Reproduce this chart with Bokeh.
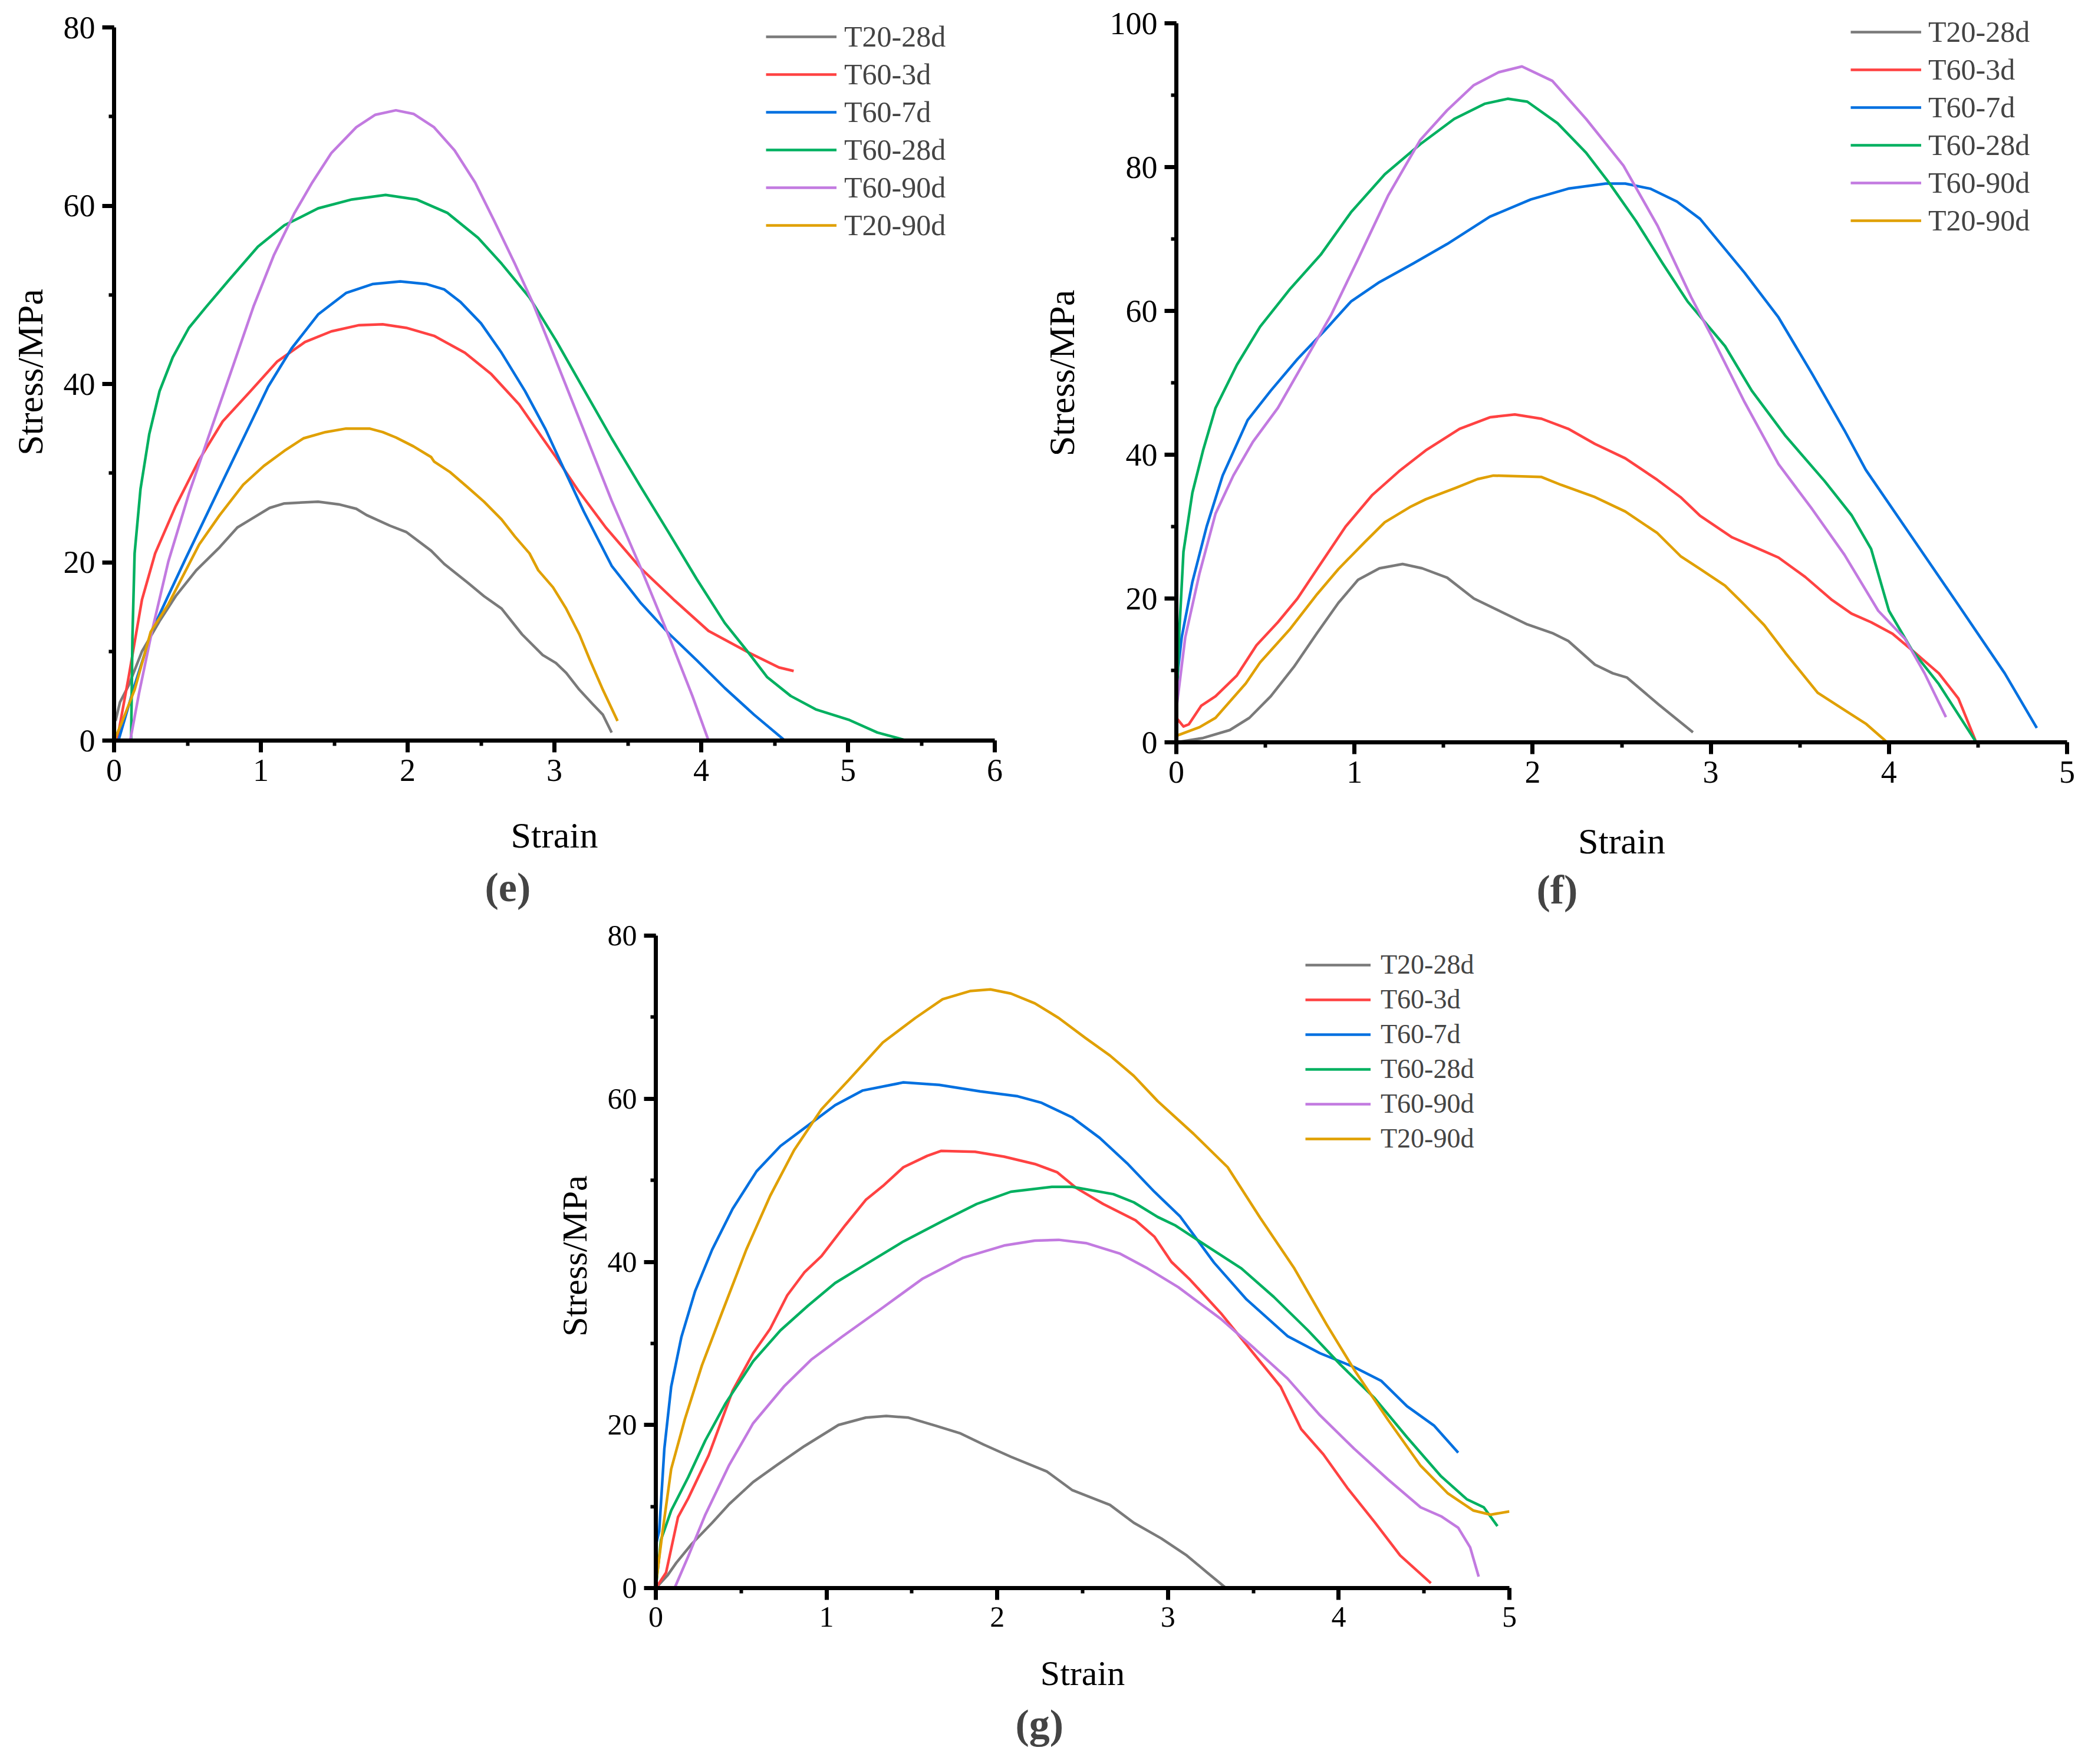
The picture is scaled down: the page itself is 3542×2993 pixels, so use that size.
from bokeh.plotting import figure
from bokeh.models import Range1d, Legend, LegendItem, Title, Spacer, SingleIntervalTicker
from bokeh.layouts import column, row
from bokeh.embed import file_html
from bokeh.resources import INLINE

# series names and colours (same order in every panel)
names = ["T20-28d", "T60-3d", "T60-7d", "T60-28d", "T60-90d", "T20-90d"]
colors = ["#7a7a7a", "#ff4242", "#0070e0", "#00b060", "#c27ae0", "#e0a000"]

# ---------------- panel (e) ----------------
e_t20_28_x = [0.01, 0.04, 0.10, 0.19, 0.31, 0.42, 0.56, 0.72, 0.84, 0.93, 1.06, 1.16, 1.39, 1.53, 1.65, 1.72, 1.88, 1.99, 2.16, 2.25, 2.41, 2.52, 2.64, 2.78, 2.92, 3.01, 3.08, 3.17, 3.26, 3.33, 3.39]
e_t20_28_y = [2.2, 4.3, 6.2, 10.0, 13.4, 16.2, 19.1, 21.7, 23.9, 24.8, 26.1, 26.6, 26.8, 26.5, 26.0, 25.3, 24.1, 23.4, 21.3, 19.8, 17.7, 16.2, 14.8, 11.9, 9.6, 8.7, 7.6, 5.7, 4.1, 2.9, 0.9]
e_t60_3_x = [0.02, 0.10, 0.19, 0.28, 0.42, 0.58, 0.74, 0.93, 1.11, 1.30, 1.48, 1.67, 1.83, 1.99, 2.18, 2.39, 2.57, 2.76, 2.92, 3.01, 3.16, 3.35, 3.59, 3.82, 4.05, 4.32, 4.53, 4.63]
e_t60_3_y = [0.0, 7.2, 15.8, 21.0, 26.3, 31.5, 35.8, 39.2, 42.5, 44.7, 45.9, 46.6, 46.7, 46.3, 45.4, 43.5, 41.1, 37.7, 33.9, 31.8, 28.1, 23.9, 19.3, 15.7, 12.3, 9.9, 8.2, 7.8]
e_t60_7_x = [0.03, 0.14, 0.26, 0.49, 0.72, 0.91, 1.05, 1.21, 1.39, 1.58, 1.76, 1.95, 2.13, 2.25, 2.36, 2.50, 2.64, 2.80, 2.94, 3.01, 3.20, 3.39, 3.59, 3.78, 3.97, 4.16, 4.36, 4.57]
e_t60_7_y = [0.0, 6.2, 12.4, 20.5, 28.4, 34.9, 39.7, 44.0, 47.8, 50.2, 51.2, 51.5, 51.2, 50.6, 49.2, 46.8, 43.5, 39.2, 34.9, 32.4, 25.7, 19.6, 15.4, 12.0, 9.0, 5.9, 2.9, 0.0]
e_t60_28_x = [0.116, 0.125, 0.14, 0.18, 0.24, 0.31, 0.40, 0.51, 0.63, 0.79, 0.98, 1.16, 1.39, 1.62, 1.85, 2.06, 2.27, 2.48, 2.64, 2.83, 3.01, 3.20, 3.39, 3.59, 3.78, 3.97, 4.16, 4.32, 4.45, 4.61, 4.78, 5.01, 5.20, 5.40]
e_t60_28_y = [0.0, 11.5, 21.0, 28.2, 34.4, 39.2, 43.0, 46.3, 48.7, 51.8, 55.4, 57.8, 59.7, 60.7, 61.2, 60.7, 59.2, 56.4, 53.5, 49.7, 44.9, 39.4, 33.9, 28.4, 23.3, 18.1, 13.2, 9.9, 7.1, 5.0, 3.5, 2.3, 0.9, 0.0]
e_t60_90_x = [0.00, 0.01, 0.11, 0.17, 0.26, 0.37, 0.51, 0.65, 0.81, 0.95, 1.09, 1.23, 1.35, 1.48, 1.65, 1.78, 1.92, 2.04, 2.18, 2.32, 2.46, 2.59, 2.73, 2.85, 2.99, 3.20, 3.39, 3.59, 3.78, 3.94, 4.05]
e_t60_90_y = [1.3, 0.0, 0.0, 5.3, 12.4, 20.1, 27.7, 34.4, 42.0, 48.7, 54.5, 59.2, 62.6, 65.9, 68.8, 70.2, 70.7, 70.3, 68.8, 66.2, 62.6, 58.3, 53.5, 49.2, 43.5, 34.8, 26.9, 19.3, 11.7, 5.0, 0.0]
e_t20_90_x = [0.00, 0.05, 0.14, 0.25, 0.37, 0.58, 0.72, 0.88, 1.02, 1.16, 1.29, 1.44, 1.58, 1.74, 1.83, 1.92, 2.04, 2.16, 2.18, 2.29, 2.41, 2.52, 2.64, 2.73, 2.83, 2.89, 2.99, 3.08, 3.17, 3.24, 3.33, 3.43]
e_t20_90_y = [0.0, 1.9, 5.7, 12.2, 15.3, 22.0, 25.3, 28.7, 30.8, 32.5, 33.9, 34.6, 35.0, 35.0, 34.6, 34.0, 33.0, 31.8, 31.3, 30.1, 28.4, 26.8, 24.8, 22.9, 21.0, 19.1, 17.2, 14.8, 11.9, 9.1, 5.7, 2.2]

# ---------------- panel (f) ----------------
f_t20_28_x = [0.00, 0.15, 0.30, 0.41, 0.53, 0.66, 0.79, 0.91, 1.02, 1.14, 1.27, 1.38, 1.52, 1.67, 1.82, 1.97, 2.11, 2.20, 2.35, 2.45, 2.53, 2.71, 2.90]
f_t20_28_y = [0.0, 0.6, 1.7, 3.4, 6.4, 10.5, 15.2, 19.4, 22.6, 24.2, 24.8, 24.2, 22.9, 20.0, 18.2, 16.4, 15.2, 14.1, 10.8, 9.6, 9.0, 5.2, 1.4]
f_t60_3_x = [0.00, 0.04, 0.07, 0.14, 0.22, 0.34, 0.45, 0.57, 0.68, 0.79, 0.95, 1.10, 1.25, 1.40, 1.59, 1.76, 1.90, 2.05, 2.20, 2.35, 2.52, 2.70, 2.83, 2.94, 3.12, 3.27, 3.38, 3.53, 3.68, 3.79, 3.90, 4.02, 4.13, 4.28, 4.39, 4.49]
f_t60_3_y = [3.4, 2.2, 2.5, 5.1, 6.4, 9.3, 13.5, 16.7, 20.0, 24.1, 30.0, 34.4, 37.7, 40.6, 43.6, 45.2, 45.6, 45.0, 43.6, 41.5, 39.5, 36.5, 34.1, 31.5, 28.5, 26.9, 25.7, 23.0, 19.8, 17.9, 16.7, 15.1, 12.8, 9.6, 6.1, 0.0]
f_t60_7_x = [0.00, 0.03, 0.09, 0.17, 0.26, 0.40, 0.53, 0.68, 0.83, 0.98, 1.14, 1.33, 1.52, 1.76, 1.99, 2.20, 2.41, 2.52, 2.66, 2.81, 2.94, 3.19, 3.38, 3.57, 3.75, 3.87, 4.13, 4.39, 4.65, 4.83]
f_t60_7_y = [8.0, 14.6, 22.3, 30.0, 37.1, 44.8, 48.9, 53.3, 57.2, 61.3, 64.0, 66.6, 69.3, 73.1, 75.5, 77.0, 77.7, 77.7, 77.0, 75.2, 72.8, 65.3, 59.1, 51.2, 43.4, 37.9, 28.5, 19.1, 9.6, 2.0]
f_t60_28_x = [0.00, 0.015, 0.04, 0.09, 0.15, 0.22, 0.34, 0.47, 0.64, 0.81, 0.98, 1.17, 1.37, 1.56, 1.73, 1.86, 1.97, 2.14, 2.30, 2.43, 2.58, 2.73, 2.87, 3.08, 3.23, 3.42, 3.64, 3.79, 3.90, 4.00, 4.13, 4.28, 4.49]
f_t60_28_y = [3.4, 14.6, 26.5, 34.7, 40.6, 46.5, 52.5, 57.8, 63.1, 67.8, 73.7, 79.0, 83.2, 86.7, 88.8, 89.5, 89.1, 86.1, 82.0, 77.8, 72.5, 66.6, 61.3, 55.1, 48.9, 42.6, 36.3, 31.6, 26.9, 18.3, 12.8, 8.1, 0.0]
f_t60_90_x = [0.00, 0.05, 0.13, 0.22, 0.32, 0.43, 0.57, 0.72, 0.87, 1.02, 1.19, 1.37, 1.52, 1.67, 1.81, 1.94, 2.11, 2.30, 2.51, 2.70, 2.89, 3.00, 3.19, 3.38, 3.57, 3.75, 3.94, 4.09, 4.20, 4.32]
f_t60_90_y = [4.6, 14.6, 23.5, 31.8, 37.1, 41.8, 46.5, 53.0, 59.5, 67.2, 76.1, 83.8, 87.9, 91.4, 93.2, 94.0, 92.0, 86.7, 80.2, 71.9, 61.9, 56.7, 47.3, 38.7, 32.4, 26.1, 18.3, 14.4, 9.6, 3.5]
f_t20_90_x = [0.00, 0.13, 0.22, 0.39, 0.47, 0.64, 0.79, 0.91, 1.06, 1.17, 1.31, 1.40, 1.57, 1.69, 1.78, 2.05, 2.16, 2.35, 2.52, 2.70, 2.83, 2.94, 3.08, 3.19, 3.30, 3.42, 3.60, 3.75, 3.87, 3.99]
f_t20_90_y = [0.9, 2.1, 3.4, 8.2, 11.1, 15.8, 20.6, 24.1, 27.9, 30.6, 32.7, 33.8, 35.4, 36.6, 37.1, 36.9, 35.8, 34.1, 32.1, 29.1, 25.9, 24.1, 21.8, 19.1, 16.3, 12.4, 6.9, 4.5, 2.6, 0.0]

# ---------------- panel (g) ----------------
g_t20_28_x = [0.00, 0.07, 0.12, 0.21, 0.33, 0.43, 0.57, 0.71, 0.87, 1.07, 1.23, 1.35, 1.48, 1.64, 1.78, 1.92, 2.08, 2.29, 2.44, 2.66, 2.80, 2.96, 3.11, 3.23, 3.34]
g_t20_28_y = [0.0, 1.6, 3.1, 5.4, 8.0, 10.3, 13.0, 15.1, 17.4, 20.0, 20.9, 21.1, 20.9, 19.9, 19.0, 17.6, 16.1, 14.3, 12.0, 10.2, 8.0, 6.1, 4.0, 1.9, 0.0]
g_t60_3_x = [0.00, 0.06, 0.13, 0.19, 0.31, 0.45, 0.57, 0.67, 0.77, 0.87, 0.97, 1.11, 1.23, 1.33, 1.45, 1.59, 1.67, 1.87, 2.04, 2.22, 2.35, 2.46, 2.62, 2.81, 2.92, 3.02, 3.13, 3.31, 3.50, 3.66, 3.78, 3.91, 4.05, 4.21, 4.36, 4.54]
g_t60_3_y = [0.0, 1.9, 8.7, 11.0, 16.3, 24.2, 28.8, 31.8, 35.9, 38.7, 40.7, 44.5, 47.6, 49.3, 51.6, 53.0, 53.6, 53.5, 52.9, 52.0, 51.0, 49.1, 47.1, 45.1, 43.1, 40.0, 37.8, 33.7, 28.8, 24.7, 19.5, 16.4, 12.3, 8.1, 4.0, 0.6]
g_t60_7_x = [0.00, 0.02, 0.05, 0.09, 0.15, 0.23, 0.33, 0.45, 0.59, 0.73, 0.89, 1.05, 1.21, 1.45, 1.66, 1.90, 2.12, 2.26, 2.44, 2.60, 2.76, 2.92, 3.07, 3.27, 3.46, 3.70, 3.89, 4.09, 4.25, 4.40, 4.56, 4.70]
g_t60_7_y = [5.2, 7.0, 17.1, 24.7, 30.8, 36.4, 41.5, 46.5, 51.1, 54.2, 56.7, 59.2, 61.0, 62.0, 61.7, 60.9, 60.3, 59.5, 57.7, 55.2, 52.1, 48.6, 45.6, 39.9, 35.4, 30.9, 28.8, 27.1, 25.4, 22.3, 19.9, 16.6]
g_t60_28_x = [0.00, 0.03, 0.09, 0.19, 0.29, 0.41, 0.57, 0.73, 0.89, 1.05, 1.23, 1.45, 1.68, 1.88, 2.08, 2.32, 2.44, 2.68, 2.80, 2.94, 3.04, 3.23, 3.43, 3.62, 3.82, 4.01, 4.21, 4.40, 4.60, 4.75, 4.85, 4.93]
g_t60_28_y = [0.0, 5.9, 9.5, 13.6, 18.1, 22.7, 27.8, 31.6, 34.6, 37.4, 39.7, 42.5, 45.0, 47.1, 48.6, 49.2, 49.2, 48.3, 47.3, 45.5, 44.5, 41.9, 39.2, 35.7, 31.6, 27.4, 23.3, 18.5, 13.7, 10.9, 9.9, 7.6]
g_t60_90_x = [0.11, 0.19, 0.29, 0.43, 0.57, 0.75, 0.91, 1.09, 1.33, 1.56, 1.80, 2.04, 2.22, 2.36, 2.52, 2.72, 2.88, 3.06, 3.31, 3.50, 3.70, 3.89, 4.09, 4.29, 4.48, 4.60, 4.70, 4.77, 4.82]
g_t60_90_y = [0.0, 3.9, 9.0, 15.1, 20.2, 24.7, 28.0, 30.8, 34.4, 37.9, 40.5, 42.0, 42.6, 42.7, 42.3, 41.0, 39.2, 36.9, 33.0, 29.5, 25.7, 21.2, 17.1, 13.3, 9.9, 8.8, 7.4, 5.0, 1.4]
g_t20_90_x = [0.00, 0.04, 0.09, 0.17, 0.27, 0.39, 0.53, 0.67, 0.81, 0.97, 1.13, 1.33, 1.52, 1.68, 1.84, 1.96, 2.08, 2.22, 2.36, 2.52, 2.66, 2.80, 2.94, 3.15, 3.35, 3.54, 3.74, 3.93, 4.09, 4.29, 4.48, 4.64, 4.79, 4.89, 5.00]
g_t20_90_y = [0.4, 7.0, 14.6, 20.7, 27.3, 33.9, 41.5, 48.1, 53.7, 58.7, 62.3, 66.9, 69.9, 72.2, 73.2, 73.4, 72.9, 71.7, 69.9, 67.4, 65.3, 62.8, 59.7, 55.7, 51.6, 45.4, 39.2, 32.3, 26.8, 20.6, 15.0, 11.6, 9.5, 9.0, 9.4]

FONT = "Liberation Serif"


def make_panel(xs, ys, x_end, y_top, y_end, frame_w, frame_h, borders, tick_size,
               label_size, x_label_standoff, y_label_standoff, leg_xy, leg_size,
               leg_row, glyph_w, leg_standoff, caption, cap_offset, cap_standoff):
    left, right, top, bottom = borders
    # the frame reaches a little above the last tick so the legend is not clipped
    p = figure(frame_width=frame_w, frame_height=frame_h,
               x_range=Range1d(0, x_end), y_range=Range1d(0, y_end),
               output_backend="svg", toolbar_location=None,
               min_border_left=left, min_border_right=right,
               min_border_top=top, min_border_bottom=bottom,
               x_axis_label="Strain", y_axis_label="Stress/MPa")
    p.outline_line_color = None
    p.grid.visible = False
    p.background_fill_color = "white"
    p.border_fill_color = "white"

    p.xaxis.ticker = SingleIntervalTicker(interval=1, num_minor_ticks=2)
    p.yaxis.ticker = SingleIntervalTicker(interval=20, num_minor_ticks=2)
    p.yaxis.bounds = (0, y_top)
    for ax in list(p.xaxis) + list(p.yaxis):
        ax.axis_line_width = 7
        ax.major_tick_line_width = 7
        ax.minor_tick_line_width = 6
        ax.major_tick_in = 0
        ax.major_tick_out = 20
        ax.minor_tick_in = 0
        ax.minor_tick_out = 9
        ax.major_label_text_font = FONT
        ax.major_label_text_font_size = tick_size
        ax.major_label_text_color = "black"
        ax.axis_label_text_font = FONT
        ax.axis_label_text_font_size = label_size
        ax.axis_label_text_font_style = "normal"
        ax.axis_label_text_color = "black"
        ax.major_label_standoff = 12
    p.xaxis.axis_label_standoff = x_label_standoff
    p.yaxis.axis_label_standoff = y_label_standoff

    items = []
    for x, y, name, c in zip(xs, ys, names, colors):
        r = p.line(x, y, line_color=c, line_width=4.5, line_join="round")
        items.append(LegendItem(label=name, renderers=[r]))

    leg = Legend(items=items, location=leg_xy, orientation="vertical",
                 label_text_font=FONT, label_text_font_size=leg_size,
                 label_height=leg_row, glyph_height=leg_row, glyph_width=glyph_w,
                 label_standoff=leg_standoff, spacing=6, padding=0, margin=0,
                 border_line_alpha=0, background_fill_alpha=0)
    p.add_layout(leg, "center")

    p.add_layout(Title(text=caption, align="left", offset=cap_offset,
                       text_font=FONT, text_font_size="70px",
                       text_font_style="bold", standoff=cap_standoff), "below")
    return p


pe = make_panel([e_t20_28_x, e_t60_3_x, e_t60_7_x, e_t60_28_x, e_t60_90_x, e_t20_90_x],
                [e_t20_28_y, e_t60_3_y, e_t60_7_y, e_t60_28_y, e_t60_90_y, e_t20_90_y],
                6, 80, 80 * 1250 / 1210, 1494, 1250, (193, 76, 6, 303), "54px", "62px",
                55, 20, (1106, 845), "50px", 58, 120, 13, "(e)", 629, 22)

pf = make_panel([f_t20_28_x, f_t60_3_x, f_t60_7_x, f_t60_28_x, f_t60_90_x, f_t20_90_x],
                [f_t20_28_y, f_t60_3_y, f_t60_7_y, f_t60_28_y, f_t60_90_y, f_t20_90_y],
                5, 100, 100 * 1253 / 1220, 1511, 1253, (225, 27, 6, 300), "54px", "62px",
                62, 45, (1144, 856), "50px", 58, 120, 12, "(f)", 611, 11)

pg = make_panel([g_t20_28_x, g_t60_3_x, g_t60_7_x, g_t60_28_x, g_t60_90_x, g_t20_90_x],
                [g_t20_28_y, g_t60_3_y, g_t60_7_y, g_t60_28_y, g_t60_90_y, g_t20_90_y],
                5, 80, 80 * 1127 / 1107, 1448, 1127, (220, 60, 8, 273), "50px", "60px",
                43, 20, (1102, 736), "46px", 52, 111, 17, "(g)", 610, 21)

layout = column(row(pe, pf), row(Spacer(width=892, height=10), pg))

open("out.html", "w").write(file_html(layout, INLINE))
